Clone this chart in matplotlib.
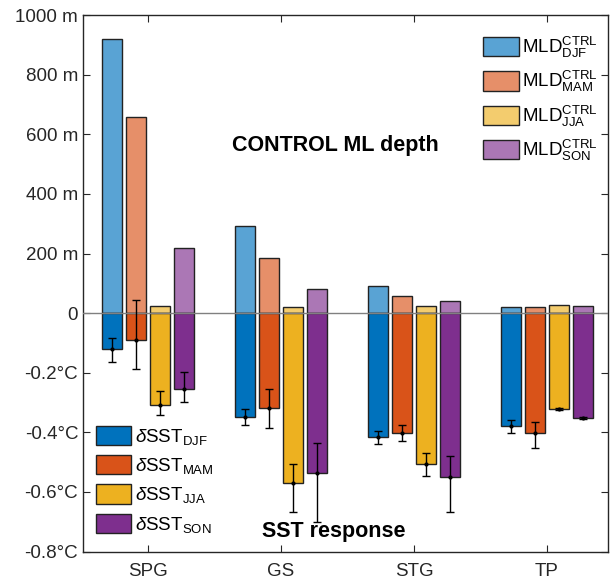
import numpy as np
import matplotlib.pyplot as plt
from matplotlib.colors import to_rgba

plt.rcParams['font.family'] = ['Liberation Sans', 'DejaVu Sans']
plt.rcParams['mathtext.fontset'] = 'custom'
plt.rcParams['mathtext.rm'] = 'Liberation Sans'
plt.rcParams['mathtext.it'] = 'Liberation Sans:italic'
plt.rcParams['mathtext.bf'] = 'Liberation Sans:bold'

regions = ['SPG', 'GS', 'STG', 'TP']
seasons = ['DJF', 'MAM', 'JJA', 'SON']

# control mixed layer depth (m), one list per season
mld_djf = [921, 294, 90, 22]
mld_mam = [657, 184, 59, 20]
mld_jja = [23, 20, 25, 26]
mld_son = [219, 81, 40, 25]

# SST response (degC) with lower / upper error half-widths
sst_djf = [-0.120, -0.348, -0.417, -0.378]
sst_mam = [-0.090, -0.320, -0.401, -0.401]
sst_jja = [-0.309, -0.570, -0.507, -0.323]
sst_son = [-0.255, -0.535, -0.549, -0.351]
err_lo_djf = [0.045, 0.027, 0.023, 0.025]
err_hi_djf = [0.037, 0.026, 0.020, 0.019]
err_lo_mam = [0.098, 0.064, 0.028, 0.050]
err_hi_mam = [0.134, 0.067, 0.024, 0.035]
err_lo_jja = [0.032, 0.096, 0.040, 0.003]
err_hi_jja = [0.046, 0.063, 0.037, 0.003]
err_lo_son = [0.042, 0.166, 0.117, 0.004]
err_hi_son = [0.056, 0.099, 0.069, 0.004]

mld = [mld_djf, mld_mam, mld_jja, mld_son]
sst = [sst_djf, sst_mam, sst_jja, sst_son]
err_lo = [err_lo_djf, err_lo_mam, err_lo_jja, err_lo_son]
err_hi = [err_hi_djf, err_hi_mam, err_hi_jja, err_hi_son]

ytick_vals = [-0.8, -0.6, -0.4, -0.2, 0, 0.2, 0.4, 0.6, 0.8, 1.0]
ytick_labels = ['-0.8°C', '-0.6°C', '-0.4°C', '-0.2°C', '0',
                '200 m', '400 m', '600 m', '800 m', '1000 m']

colors = ['#0072BD', '#D95319', '#EDB120', '#7E2F8E']

fig = plt.figure(figsize=(6.12, 5.82), dpi=100)
ax = fig.add_axes([0.1356, 0.0524, 0.858, 0.9216])

x = np.arange(1, len(regions) + 1)
step = 0.18
width = 0.15

mld_bars = []
sst_bars = []
for i, s in enumerate(seasons):
    xs = x + (i - 1.5) * step
    # depth is drawn in km so 200 m sits level with 0.2 degC
    b1 = ax.bar(xs, np.array(mld[i]) / 1000.0, width,
                facecolor=to_rgba(colors[i], 0.65), edgecolor='#222222',
                linewidth=1, zorder=2)
    b2 = ax.bar(xs, sst[i], width, color=colors[i], edgecolor='#222222',
                linewidth=1, zorder=2)
    ax.errorbar(xs, sst[i], yerr=[err_lo[i], err_hi[i]], fmt='.', color='k',
                ms=4, elinewidth=1, capsize=3, capthick=1, zorder=4)
    mld_bars.append(b1)
    sst_bars.append(b2)

ax.axhline(0, color='#808080', lw=1, zorder=3)

ax.set_xlim(0.51, 4.46)
ax.set_ylim(-0.8, 1.0)
ax.set_xticks(x)
ax.set_xticklabels(regions)
ax.set_yticks(ytick_vals)
ax.set_yticklabels(ytick_labels)
ax.tick_params(direction='in', length=5, width=0.8, labelsize=13.5,
               top=True, right=True, colors='#262626')
ax.tick_params(axis='x', pad=8)
for sp in ax.spines.values():
    sp.set_color('#262626')
    sp.set_linewidth(1)

ax.text(2.41, 0.563, 'CONTROL ML depth', fontsize=15.5, fontweight='bold',
        ha='center', va='center')
ax.text(2.40, -0.734, 'SST response', fontsize=15.5, fontweight='bold',
        ha='center', va='center')

mld_labels = [r'MLD$^{\mathrm{CTRL}}_{\mathrm{' + s + '}}$' for s in seasons]
sst_labels = [r'$\mathit{\delta}$SST$_{\mathrm{' + s + '}}$' for s in seasons]

leg1 = ax.legend([b[0] for b in mld_bars], mld_labels, loc='upper right',
                 bbox_to_anchor=(1.013, 0.995), frameon=False, fontsize=13.5,
                 handlelength=1.9, handleheight=1.2, handletextpad=0.2,
                 labelspacing=0.5)
ax.add_artist(leg1)
ax.legend([b[0] for b in sst_bars], sst_labels, loc='lower left',
          bbox_to_anchor=(-0.007, 0.0), frameon=False, fontsize=13.5,
          handlelength=1.85, handleheight=1.2, handletextpad=0.2,
          labelspacing=0.45)

fig.savefig('out.png', dpi=100)
